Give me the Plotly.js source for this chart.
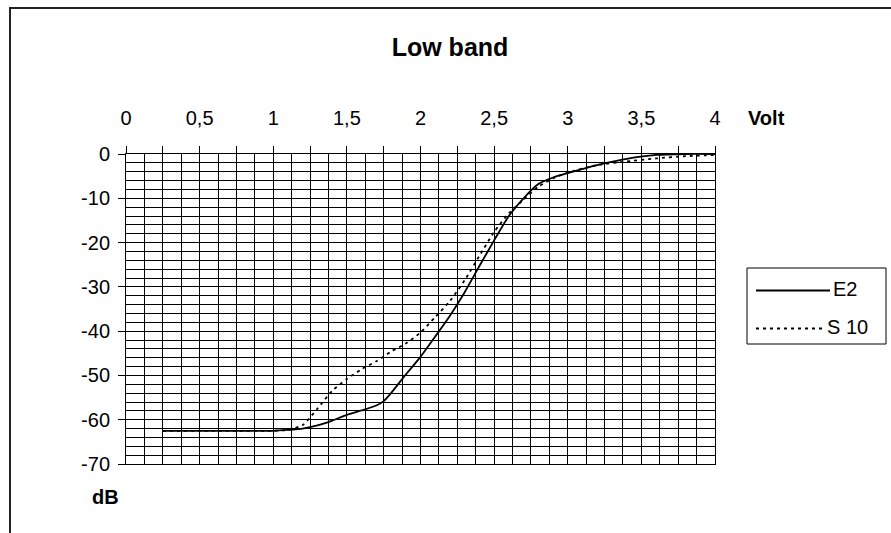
<!DOCTYPE html>
<html>
<head>
<meta charset="utf-8">
<script src="https://cdn.plot.ly/plotly-3.0.1.min.js"></script>
<style>html,body{margin:0;padding:0;background:#fff;}#chart{width:891px;height:533px;}</style>
</head>
<body>
<div id="chart"></div>
<script>
// ---- data ----
var chartTitle = "Low band";
var xAxisLabel = "Volt";
var yAxisLabel = "dB";

var e2Name = "E2";
var e2Volt = [0.25, 0.5, 0.75, 1.0, 1.1, 1.2, 1.3, 1.4, 1.5, 1.6, 1.7, 1.75, 1.8, 1.9, 2.0, 2.1, 2.2, 2.3, 2.4, 2.5, 2.6, 2.7, 2.8, 2.9, 3.0, 3.2, 3.4, 3.6, 3.8, 4.0];
var e2DB   = [-62.5, -62.5, -62.5, -62.5, -62.3, -62.0, -61.3, -60.2, -58.9, -57.9, -56.8, -55.8, -54.0, -49.8, -45.8, -41.2, -36.5, -31.2, -25.3, -19.5, -14.0, -10.0, -6.8, -5.3, -4.3, -2.5, -1.1, -0.2, 0, 0];

var s10Name = "S 10";
var s10Volt = [0.25, 0.5, 0.75, 1.0, 1.1, 1.2, 1.3, 1.4, 1.5, 1.6, 1.7, 1.8, 1.9, 2.0, 2.1, 2.2, 2.3, 2.4, 2.5, 2.6, 2.7, 2.8, 2.9, 3.0, 3.2, 3.4, 3.6, 3.8, 4.0];
var s10DB   = [-62.5, -62.5, -62.5, -62.5, -62.3, -61.2, -57.5, -53.5, -50.8, -48.6, -46.8, -44.6, -42.8, -40.3, -36.8, -33.2, -28.5, -23.0, -17.6, -13.4, -10.3, -7.4, -5.5, -4.2, -2.5, -1.7, -1.0, -0.5, -0.2];

var xTickVals = [0, 0.25, 0.5, 0.75, 1, 1.25, 1.5, 1.75, 2, 2.25, 2.5, 2.75, 3, 3.25, 3.5, 3.75, 4];
var xTickText = ["0", "", "0,5", "", "1", "", "1,5", "", "2", "", "2,5", "", "3", "", "3,5", "", "4"];
var yTickVals = [-70, -60, -50, -40, -30, -20, -10, 0];
var yTickText = ["-70", "-60", "-50", "-40", "-30", "-20", "-10", "0"];

// ---- layout helpers (pixel -> paper) ----
var L = 126, R = 715, T = 154, B = 464;
function px(x) { return (x - L) / (R - L); }
function py(y) { return (B - y) / (B - T); }

var FONT = "Liberation Sans, Arial, sans-serif";
var FS = 20;

var traces = [
  {x: e2Volt, y: e2DB, name: e2Name, type: "scatter", mode: "lines",
   line: {color: "#000", width: 1.8, shape: "spline", smoothing: 0.6}, showlegend: false},
  {x: s10Volt, y: s10DB, name: s10Name, type: "scatter", mode: "lines",
   line: {color: "#000", width: 1.8, dash: "3px,4px", shape: "spline", smoothing: 0.6}, showlegend: false}
];

var layout = {
  width: 891, height: 533,
  margin: {l: L, r: 891 - R, t: T, b: 533 - B, pad: 0},
  paper_bgcolor: "#fff", plot_bgcolor: "#fff",
  font: {family: FONT, size: FS, color: "#000"},
  title: {text: "<b>" + chartTitle + "</b>", font: {size: 25, color: "#000", family: FONT},
          x: 450 / 891, xref: "container", xanchor: "center", y: 1 - 47 / 533, yref: "container", yanchor: "middle"},
  xaxis: {
    side: "top", range: [0, 4], tickmode: "array", tickvals: xTickVals, ticktext: xTickText,
    ticks: "outside", ticklen: 7, tickcolor: "#000", tickwidth: 1,
    ticklabelstandoff: 13,
    showline: true, linecolor: "#000", linewidth: 1, mirror: true,
    showgrid: true, gridcolor: "#000", gridwidth: 1, zeroline: false,
    minor: {dtick: 0.125, tick0: 0, showgrid: true, gridcolor: "#000", gridwidth: 1, ticks: ""},
    fixedrange: true
  },
  yaxis: {
    range: [-70, 0], tickmode: "array", tickvals: yTickVals, ticktext: yTickText,
    ticks: "outside", ticklen: 7, tickcolor: "#000", tickwidth: 1,
    ticklabelstandoff: 4,
    showline: true, linecolor: "#000", linewidth: 1, mirror: true,
    showgrid: true, gridcolor: "#000", gridwidth: 1, zeroline: false,
    minor: {dtick: 2, tick0: 0, showgrid: true, gridcolor: "#000", gridwidth: 1, ticks: ""},
    fixedrange: true
  },
  shapes: [
    // outer chart border (left/top visible)
    {type: "rect", xref: "paper", yref: "paper", x0: px(10), x1: px(900), y0: py(545), y1: py(8),
     line: {color: "#222", width: 2}, fillcolor: "rgba(0,0,0,0)", layer: "below"},
    // legend box
    {type: "rect", xref: "paper", yref: "paper", x0: px(747), x1: px(886), y0: py(344), y1: py(268),
     line: {color: "#000", width: 1}, fillcolor: "#fff"},
    {type: "line", xref: "paper", yref: "paper", x0: px(756), x1: px(830), y0: py(290.5), y1: py(290.5),
     line: {color: "#000", width: 1.8}},
    {type: "line", xref: "paper", yref: "paper", x0: px(756), x1: px(824), y0: py(328.5), y1: py(328.5),
     line: {color: "#000", width: 1.8, dash: "3px,4px"}}
  ],
  annotations: [
    {text: "<b>" + xAxisLabel + "</b>", xref: "paper", yref: "paper", x: px(766), y: py(118),
     xanchor: "center", yanchor: "middle", showarrow: false, font: {size: FS, family: FONT}},
    {text: "<b>" + yAxisLabel + "</b>", xref: "paper", yref: "paper", x: px(105), y: py(497),
     xanchor: "center", yanchor: "middle", showarrow: false, font: {size: FS, family: FONT}},
    {text: e2Name, xref: "paper", yref: "paper", x: px(831), y: py(289),
     xanchor: "left", yanchor: "middle", showarrow: false, font: {size: FS, family: FONT}},
    {text: s10Name, xref: "paper", yref: "paper", x: px(825), y: py(327),
     xanchor: "left", yanchor: "middle", showarrow: false, font: {size: FS, family: FONT}}
  ],
  showlegend: false
};

Plotly.newPlot("chart", traces, layout, {staticPlot: true, displayModeBar: false});
</script>
</body>
</html>
